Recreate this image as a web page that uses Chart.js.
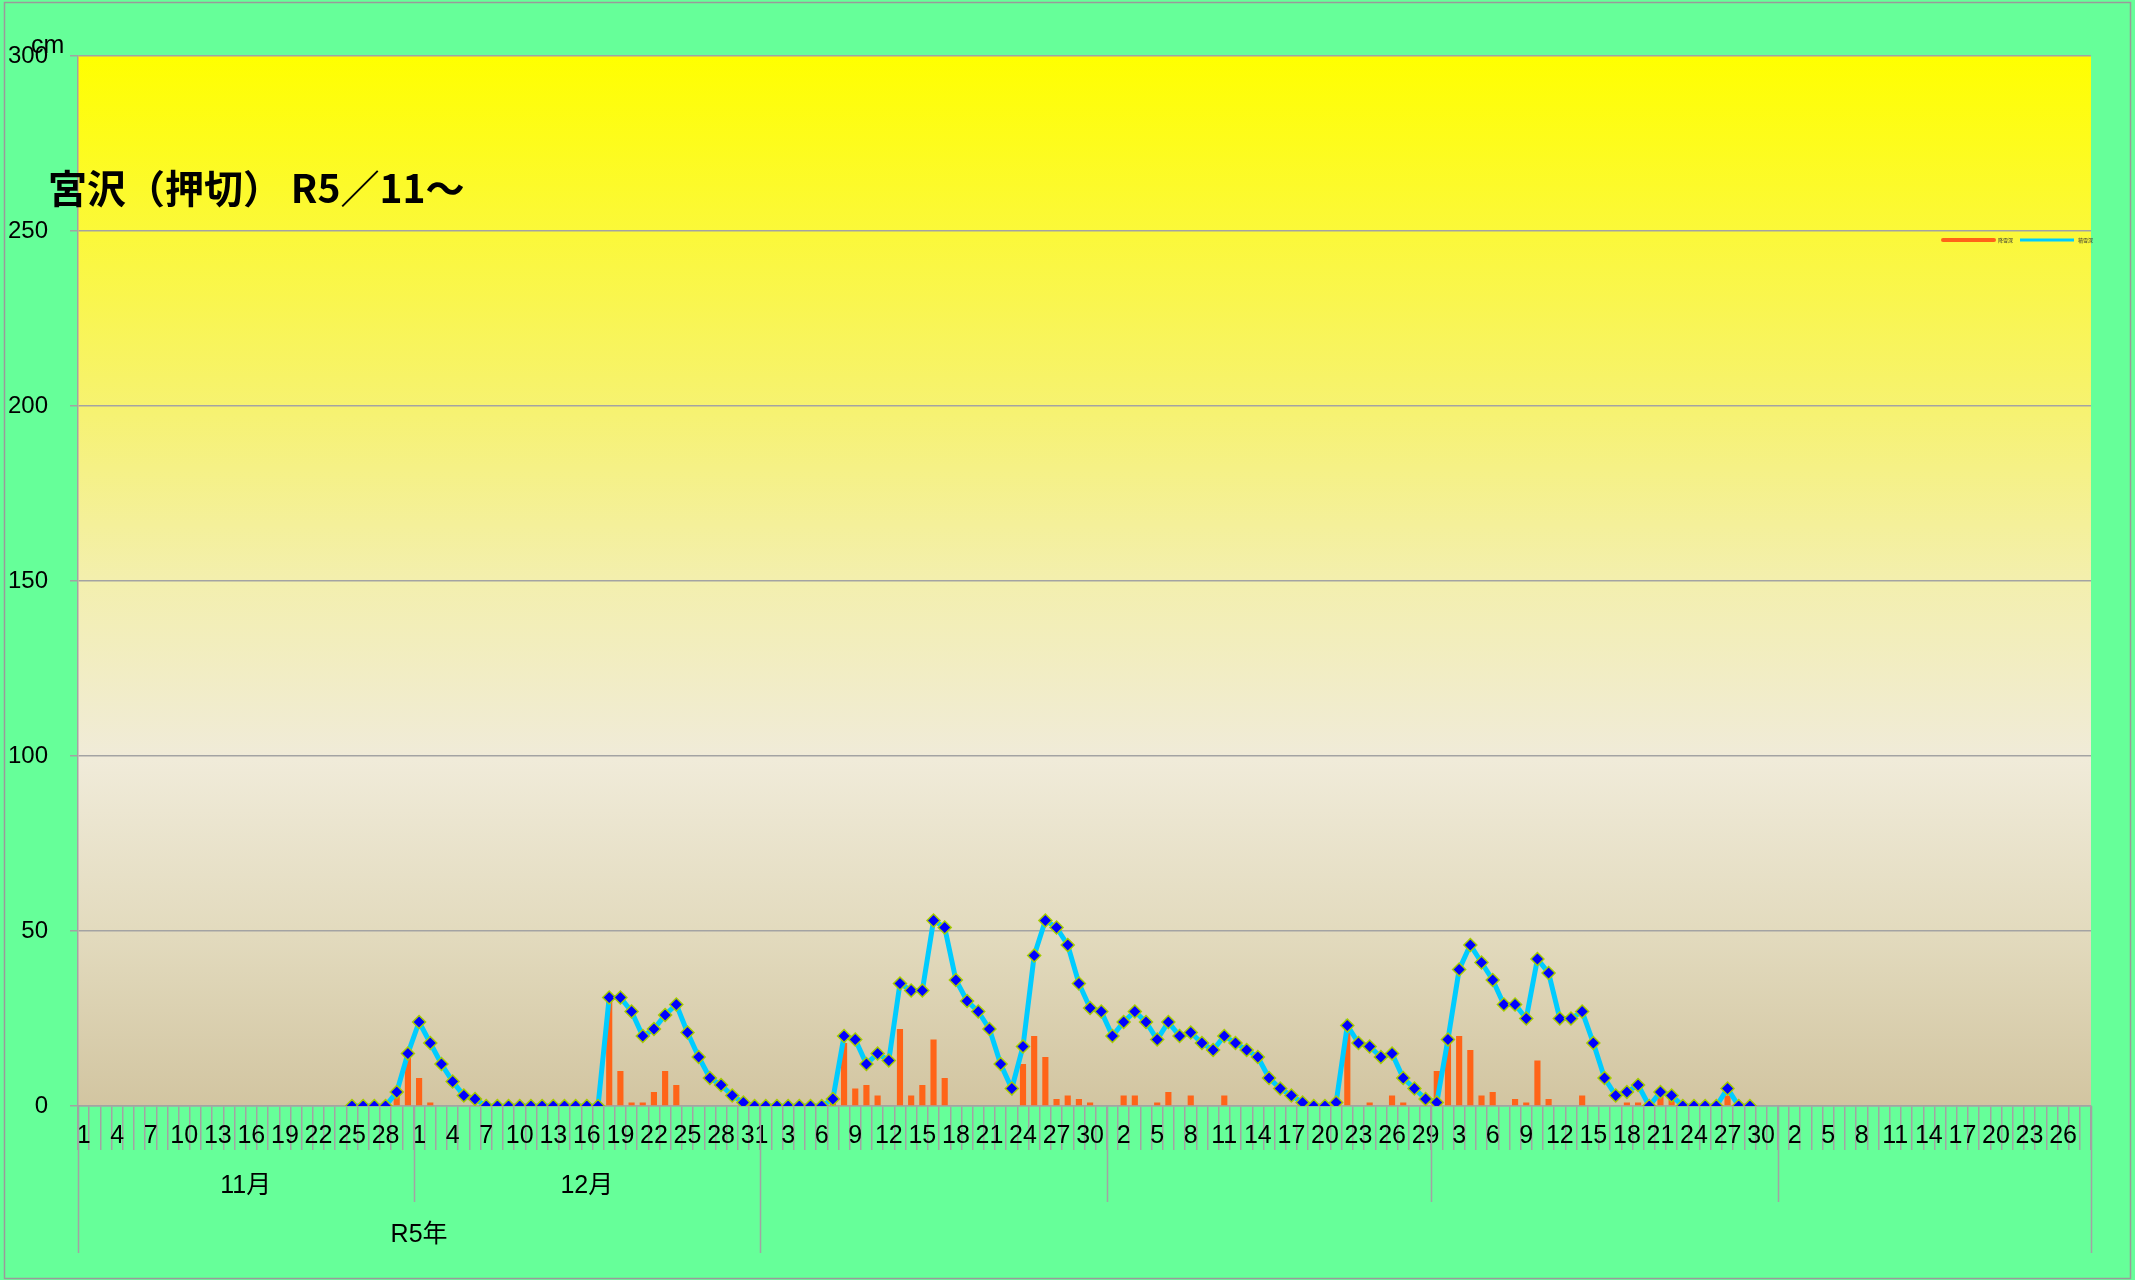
<!DOCTYPE html>
<html lang="ja">
<head>
<meta charset="utf-8">
<title>宮沢（押切） R5／11～</title>
<script src="https://cdn.jsdelivr.net/npm/chart.js@4.4.1/dist/chart.umd.min.js"></script>
<style>
    html, body { margin: 0; padding: 0; background: #66FF99; }
    #wrap { width: 2135px; height: 1280px; }
</style>
</head>
<body>
<div id="wrap"><canvas id="chart" width="2135" height="1280"></canvas></div>
<script>
const TITLE = '宮沢（押切） R5／11～';
const UNIT = 'cm';
const LEGEND_SNOW = '降雪深';
const LEGEND_DEPTH = '積雪深';

// category axis: months (Nov R5 .. Apr R6), group labels
const monthNames = ['11月', '12月', '', '', '', ''];
const monthDays = [30, 31, 31, 29, 31, 28];
const yearNames = ['R5年', ''];
const yearMonthCount = [2, 4];
const yMax = 300;
const yStep = 50;

// 積雪深 (cm) per day
const depthNov = [null, null, null, null, null, null, null, null, null, null, null, null,
    null, null, null, null, null, null, null, null, null, null, null, null, 0, 0, 0, 0, 4, 15];
const depthDec = [24, 18, 12, 7, 3, 2, 0, 0, 0, 0, 0, 0, 0, 0, 0, 0, 0,
    31, 31, 27, 20, 22, 26, 29, 21, 14, 8, 6, 3, 1, 0];
const depthJan = [0, 0, 0, 0, 0, 0, 2, 20, 19, 12, 15, 13, 35, 33, 33, 53, 51, 36, 30, 27,
    22, 12, 5, 17, 43, 53, 51, 46, 35, 28, 27];
const depthFeb = [20, 24, 27, 24, 19, 24, 20, 21, 18, 16, 20, 18, 16, 14, 8, 5, 3, 1, 0, 0,
    1, 23, 18, 17, 14, 15, 8, 5, 2];
const depthMar = [1, 19, 39, 46, 41, 36, 29, 29, 25, 42, 38, 25, 25, 27, 18, 8, 3, 4, 6, 0,
    4, 3, 0, 0, 0, 0, 5, 0, 0, null, null];
const depthApr = new Array(28).fill(null);

// 降雪深 (cm) per day
const snowNov = [null, null, null, null, null, null, null, null, null, null, null, null,
    null, null, null, null, null, null, null, null, null, null, null, null, 0, 0, 0, 0, 3, 14];
const snowDec = [8, 1, 0, 0, 0, 0, 0, 0, 0, 0, 0, 0, 0, 0, 0, 0, 0,
    30, 10, 1, 1, 4, 10, 6, 0, 0, 0, 0, 0, 0, 0];
const snowJan = [0, 0, 0, 0, 0, 0, 2, 18, 5, 6, 3, 0, 22, 3, 6, 19, 8, 0, 0, 0,
    0, 0, 0, 12, 20, 14, 2, 3, 2, 1, 0];
const snowFeb = [0, 3, 3, 0, 1, 4, 0, 3, 0, 0, 3, 0, 0, 0, 0, 0, 0, 0, 0, 0,
    0, 21, 0, 1, 0, 3, 1, 0, 0];
const snowMar = [10, 18, 20, 16, 3, 4, 0, 2, 1, 13, 2, 0, 0, 3, 0, 0, 0, 1, 1, 0,
    3, 2, 0, 0, 0, 0, 3, 0, 0, null, null];
const snowApr = new Array(28).fill(null);

const depth = [].concat(depthNov, depthDec, depthJan, depthFeb, depthMar, depthApr);
const snow = [].concat(snowNov, snowDec, snowJan, snowFeb, snowMar, snowApr);

// day-of-month labels, one per category
const dayLabels = [];
monthDays.forEach(n => {
    for (let d = 1; d <= n; d++) dayLabels.push(String(d));
});

const NARROW = "'Liberation Sans Narrow', 'Liberation Sans', 'Noto Sans CJK JP', sans-serif";
const SANS = "'Liberation Sans', 'Noto Sans CJK JP', sans-serif";
const GRID = '#A3A3A3';

const decor = {
    id: 'decor',
    beforeDraw(chart) {
        const { ctx, chartArea: a } = chart;
        ctx.save();
        ctx.fillStyle = '#66FF99';
        ctx.fillRect(0, 0, chart.width, chart.height);
        const g = ctx.createLinearGradient(0, a.top, 0, a.bottom);
        g.addColorStop(0, '#FFFF00');
        g.addColorStop(0.17, '#FBF83A');
        g.addColorStop(0.34, '#F6F272');
        g.addColorStop(0.5, '#F3EFAE');
        g.addColorStop(0.67, '#F0EBD9');
        g.addColorStop(0.84, '#E2DABD');
        g.addColorStop(1, '#D2C5A1');
        ctx.fillStyle = g;
        ctx.fillRect(a.left, a.top, a.right - a.left, a.bottom - a.top);
        ctx.restore();
    },
    afterDraw(chart) {
        const { ctx, chartArea: a } = chart;
        const x = chart.scales.x;
        const half = (x.getPixelForValue(1) - x.getPixelForValue(0)) / 2;
        const edge = i => x.getPixelForValue(i) - half;
        const top = x.top;

        ctx.save();
        ctx.strokeStyle = GRID;
        ctx.lineWidth = 1.5;
        ctx.fillStyle = '#000';
        ctx.textAlign = 'center';
        ctx.textBaseline = 'middle';
        ctx.font = `25px ${NARROW}`;

        // month row
        const monthStart = [];
        let idx = 0;
        monthDays.forEach((n, m) => {
            monthStart.push(idx);
            const l = edge(idx), r = edge(idx + n);
            if (monthNames[m]) ctx.fillText(monthNames[m], (l + r) / 2, top + 80);
            idx += n;
        });
        monthStart.push(idx);

        // year row
        const yearEdges = [0];
        let mi = 0;
        yearMonthCount.forEach((c, y) => {
            const s = monthStart[mi], e = monthStart[mi + c];
            if (yearNames[y]) ctx.fillText(yearNames[y], (edge(s) + edge(e)) / 2, top + 129);
            mi += c;
            yearEdges.push(mi);
        });

        // separators
        monthStart.forEach((s, m) => {
            const isYear = yearEdges.includes(m);
            const px = Math.round(edge(s)) + 0.5;
            ctx.beginPath();
            ctx.moveTo(px, top);
            ctx.lineTo(px, top + (isYear ? 147 : 96));
            ctx.stroke();
        });

        // unit label
        ctx.textAlign = 'left';
        ctx.textBaseline = 'alphabetic';
        ctx.font = `25px ${SANS}`;
        ctx.fillText(UNIT, 31, 53);

        // title
        ctx.font = `bold 39px 'Noto Sans CJK JP', sans-serif`;
        ctx.textBaseline = 'middle';
        ctx.fillText(TITLE, 48, 188);

        // legend
        const ly = a.top + 184;
        ctx.lineCap = 'round';
        ctx.strokeStyle = chart.data.datasets[1].backgroundColor;
        ctx.lineWidth = 4;
        ctx.beginPath();
        ctx.moveTo(a.right - 148, ly);
        ctx.lineTo(a.right - 97, ly);
        ctx.stroke();
        ctx.strokeStyle = chart.data.datasets[0].borderColor;
        ctx.lineWidth = 3;
        ctx.lineCap = 'butt';
        ctx.beginPath();
        ctx.moveTo(a.right - 71, ly);
        ctx.lineTo(a.right - 17, ly);
        ctx.stroke();
        ctx.font = `5px 'Noto Sans CJK JP', sans-serif`;
        ctx.fillStyle = '#333';
        ctx.fillText(LEGEND_SNOW, a.right - 93, ly);
        ctx.fillText(LEGEND_DEPTH, a.right - 13, ly);

        // outer frame
        ctx.strokeStyle = '#9A9A9A';
        ctx.lineWidth = 1.5;
        ctx.strokeRect(4.5, 2.5, chart.width - 9, chart.height - 4);
        ctx.restore();
    }
};

new Chart(document.getElementById('chart'), {
    type: 'bar',
    data: {
        labels: dayLabels,
        datasets: [
            {
                type: 'line',
                label: LEGEND_DEPTH,
                data: depth,
                order: 0,
                borderColor: '#00CCFF',
                borderWidth: 5,
                tension: 0,
                pointStyle: 'rectRot',
                pointRadius: 6.5,
                pointBackgroundColor: '#0000FF',
                pointBorderColor: '#A6CC00',
                pointBorderWidth: 1.5
            },
            {
                type: 'bar',
                label: LEGEND_SNOW,
                data: snow,
                order: 1,
                backgroundColor: '#FF6418',
                barPercentage: 0.55,
                categoryPercentage: 1
            }
        ]
    },
    options: {
        responsive: false,
        animation: false,
        layout: { padding: { top: 56, right: 44, bottom: 0, left: 0 } },
        plugins: {
            legend: { display: false },
            tooltip: { enabled: false }
        },
        scales: {
            x: {
                offset: true,
                grid: {
                    offset: true,
                    drawOnChartArea: false,
                    drawTicks: true,
                    tickLength: 44,
                    color: GRID,
                    lineWidth: 1.5
                },
                border: { display: true, color: GRID, width: 1.5 },
                ticks: {
                    autoSkip: false,
                    maxRotation: 0,
                    minRotation: 0,
                    padding: -29,
                    color: '#000',
                    font: { size: 25, family: NARROW },
                    callback: (v, i) => (i % 3 === 0 ? dayLabels[i] : '')
                },
                afterFit: s => { s.height = 174; }
            },
            y: {
                min: 0,
                max: yMax,
                ticks: {
                    stepSize: yStep,
                    padding: 22,
                    color: '#000',
                    font: { size: 24, family: SANS }
                },
                grid: {
                    color: GRID,
                    lineWidth: 1.5,
                    tickLength: 8
                },
                border: { display: true, color: GRID, width: 1.5 },
                afterFit: s => { s.width = 78; }
            }
        }
    },
    plugins: [decor]
});
</script>
</body>
</html>
